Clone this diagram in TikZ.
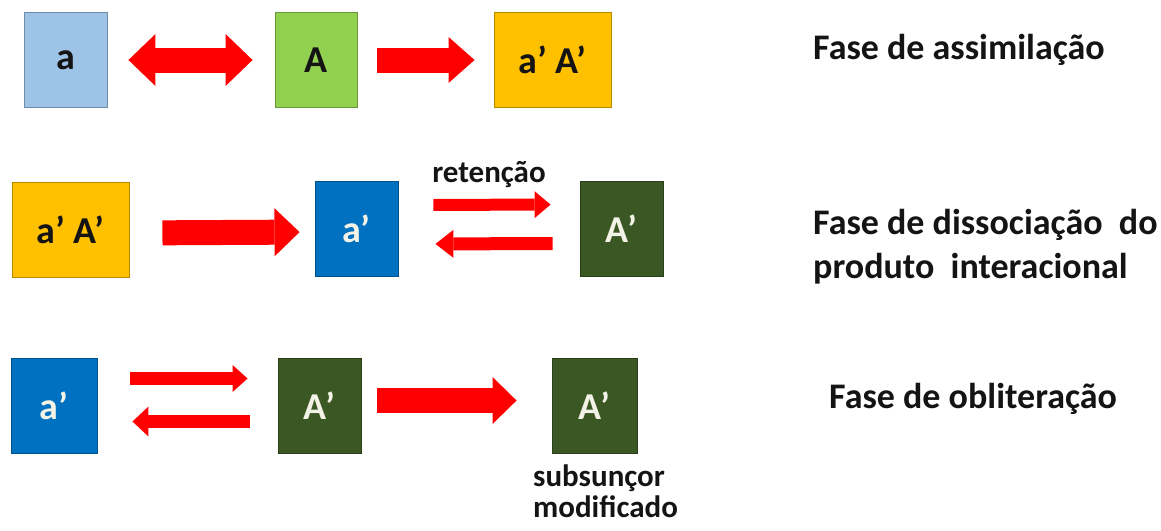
\documentclass[tikz,border=0pt]{standalone}
\usepackage{fontspec}
\setmainfont{Carlito}
\usetikzlibrary{arrows.meta}
\definecolor{lblue}{HTML}{9DC3E6}
\definecolor{lgreen}{HTML}{92D050}
\definecolor{orng}{HTML}{FFC000}
\definecolor{dblue}{HTML}{0070C0}
\definecolor{dgreen}{HTML}{3A5724}
\definecolor{arrred}{HTML}{FF0000}
\definecolor{boxtxt}{HTML}{F2F2E6}
\definecolor{darktxt}{HTML}{141414}
\begin{document}
\begin{tikzpicture}[x=1pt,y=-1pt,
  box/.style={draw=#1!72!black, fill=#1, line width=0.9pt, inner sep=0pt,
    minimum height=95pt, text=darktxt, font=\fontsize{38}{42}\selectfont\bfseries},
  lab/.style={inner sep=0pt, anchor=base west, text=darktxt, font=\fontsize{36}{42}\selectfont\bfseries},
  small/.style={inner sep=0pt, text=darktxt, font=\fontsize{31}{36}\selectfont\bfseries},
  fat/.style n args={3}{draw=arrred, line width=#1, line cap=butt,
    -{Triangle[length=#3, width=#2, line width=0pt]}},
  fatboth/.style n args={3}{draw=arrred, line width=#1, line cap=butt,
    {Triangle[length=#3, width=#2, line width=0pt]}-{Triangle[length=#3, width=#2, line width=0pt]}}
]
\useasboundingbox[fill=white] (0,0) rectangle (1161,530);

% Row 1
\node[box=lblue, minimum width=83pt] (a) at (65.5,60) {a};
\node[box=lgreen, minimum width=82pt] (A) at (316,60) {A};
\node[box=orng, minimum width=117pt] (aA1) at (552.5,60) {a’ A’};
\draw[fatboth={25pt}{52pt}{27pt}, shorten <=21pt, shorten >=22pt] (a.east) -- (A.west);
\draw[fat={25pt}{46pt}{26pt}, shorten <=20pt, shorten >=19pt] (A.east) -- (aA1.west);

% Row 2
\node[box=orng, minimum width=117pt] (aA2) at (70.5,230) {a’ A’};
\node[box=dblue, minimum width=83pt, text=boxtxt] (ap2) at (356.5,229) {a’};
\node[box=dgreen, minimum width=83pt, text=boxtxt] (Ap2) at (621.5,228.5) {A’};
\draw[fat={25pt}{48pt}{25pt}, shorten <=33pt, shorten >=15pt] ([yshift=-3pt]aA2.east) -- ([yshift=-3pt]ap2.west);
\draw[fat={12pt}{27pt}{16pt}, shorten <=35pt, shorten >=29pt] ([yshift=24pt]ap2.east) -- ([yshift=24pt]Ap2.west);
\draw[fat={13pt}{28pt}{18pt}, shorten <=27pt, shorten >=37pt] ([yshift=-15pt]Ap2.west) -- ([yshift=-15pt]ap2.east);
\node[small, anchor=base] (ret) at (489,182) {retenção};

% Row 3
\node[box=dblue, minimum width=86pt, text=boxtxt] (ap3) at (54,405.5) {a’};
\node[box=dgreen, minimum width=83pt, text=boxtxt] (Ap3) at (319.5,405.5) {A’};
\node[box=dgreen, minimum width=85pt, text=boxtxt] (Am3) at (594.5,405.5) {A’};
\draw[fat={13pt}{27pt}{15pt}, shorten <=33pt, shorten >=30pt] ([yshift=27pt]ap3.east) -- ([yshift=27pt]Ap3.west);
\draw[fat={13pt}{30pt}{16pt}, shorten <=28pt, shorten >=35pt] ([yshift=-16pt]Ap3.west) -- ([yshift=-16pt]ap3.east);
\draw[fat={25pt}{47pt}{24pt}, shorten <=16pt, shorten >=35pt] ([yshift=5pt]Ap3.east) -- ([yshift=5pt]Am3.west);
\node[small, anchor=base west] (sub1) at (533,486) {subsunçor};
\node[small, anchor=base west] (sub2) at (533,517) {modificado};

% Phase labels
\node[lab] (f1) at (813,59) {Fase de assimilação};
\node[lab] (f2) at (813,234) {Fase de dissociação\ \ do};
\node[lab] (f2b) at (813,278) {produto\ \ interacional};
\node[lab] (f3) at (829,408) {Fase de obliteração};
\end{tikzpicture}
\end{document}
